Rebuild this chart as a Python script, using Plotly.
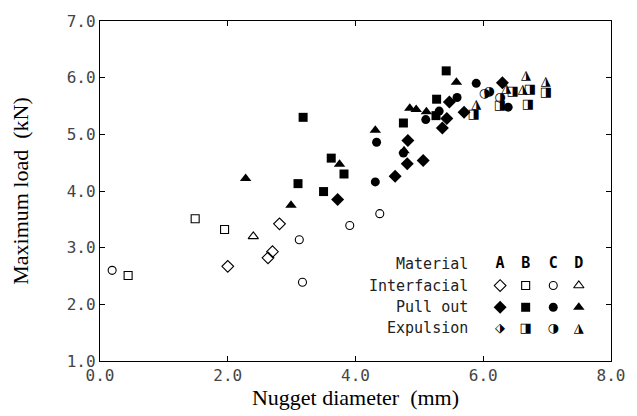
import plotly.graph_objects as go

# Nugget diameter (mm) and maximum load (kN), by failure mode and material
interfacial_A_x = [2.00, 2.81, 2.63, 2.70]
interfacial_A_y = [2.67, 3.42, 2.82, 2.93]
interfacial_B_x = [0.44, 1.49, 1.95]
interfacial_B_y = [2.51, 3.51, 3.32]
interfacial_C_x = [0.19, 3.12, 3.17, 3.91, 4.38]
interfacial_C_y = [2.60, 3.14, 2.39, 3.39, 3.60]
interfacial_D_x = [2.40]
interfacial_D_y = [3.20]

pullout_A_x = [3.72, 4.62, 4.81, 5.06, 4.82, 5.36, 5.43, 5.47, 5.70, 6.30]
pullout_A_y = [3.85, 4.26, 4.48, 4.54, 4.89, 5.11, 5.28, 5.57, 5.39, 5.91]
pullout_B_x = [3.10, 3.18, 3.50, 3.62, 3.82, 4.75, 5.27, 5.42, 5.26]
pullout_B_y = [4.13, 5.30, 3.99, 4.58, 4.30, 5.20, 5.62, 6.12, 5.33]
pullout_C_x = [4.31, 4.33, 4.75, 5.10, 5.31, 5.59, 5.89, 6.39]
pullout_C_y = [4.16, 4.86, 4.67, 5.26, 5.41, 5.65, 5.90, 5.48]
pullout_D_x = [2.28, 2.99, 3.75, 4.31, 4.76, 4.85, 4.95, 5.11, 5.58]
pullout_D_y = [4.22, 3.75, 4.47, 5.07, 4.71, 5.46, 5.44, 5.40, 5.92]

expulsion_B_x = [5.85, 6.26, 6.46, 6.73, 6.70, 6.98]
expulsion_B_y = [5.35, 5.50, 5.75, 5.78, 5.52, 5.74]
expulsion_C_x = [6.02, 6.09, 6.26]
expulsion_C_y = [5.71, 5.75, 5.64]
expulsion_D_x = [5.89, 6.36, 6.67, 6.62, 6.98]
expulsion_D_y = [5.52, 5.80, 6.03, 5.79, 5.93]

materials = ["A", "B", "C", "D"]
modes = ["Material", "Interfacial", "Pull out", "Expulsion"]

MONO = "DejaVu Sans Mono"
SERIF = "Liberation Serif"
INK = "black"

open_sym = {"A": "diamond-open", "B": "square-open", "C": "circle-open", "D": "triangle-up-open"}
fill_sym = {"A": "diamond", "B": "square", "C": "circle", "D": "triangle-up"}
half_glyph = {"A": "\u2b17", "B": "\u25e8", "C": "\u25d1", "D": "\u25ee"}
msize = {"A": 9, "B": 8, "C": 8, "D": 9}

fig = go.Figure()

def open_pts(x, y, m, **kw):
    fig.add_trace(go.Scatter(x=x, y=y, mode="markers", showlegend=False, hoverinfo="skip",
                             marker=dict(symbol=open_sym[m], size=msize[m], color=INK,
                                         line=dict(width=1.1, color=INK)), **kw))

def fill_pts(x, y, m, **kw):
    fig.add_trace(go.Scatter(x=x, y=y, mode="markers", showlegend=False, hoverinfo="skip",
                             marker=dict(symbol=fill_sym[m], size=msize[m] + 1, color=INK,
                                         line=dict(width=0)), **kw))

def half_pts(x, y, m, **kw):
    fig.add_trace(go.Scatter(x=x, y=y, mode="text", showlegend=False, hoverinfo="skip",
                             text=[half_glyph[m]] * len(x), textposition="middle center",
                             textfont=dict(family="DejaVu Sans", size=13, color=INK), **kw))

open_pts(interfacial_A_x, interfacial_A_y, "A")
open_pts(interfacial_B_x, interfacial_B_y, "B")
open_pts(interfacial_C_x, interfacial_C_y, "C")
open_pts(interfacial_D_x, interfacial_D_y, "D")
fill_pts(pullout_A_x, pullout_A_y, "A")
fill_pts(pullout_B_x, pullout_B_y, "B")
fill_pts(pullout_C_x, pullout_C_y, "C")
fill_pts(pullout_D_x, pullout_D_y, "D")
half_pts(expulsion_B_x, expulsion_B_y, "B")
half_pts(expulsion_C_x, expulsion_C_y, "C")
half_pts(expulsion_D_x, expulsion_D_y, "D")

# Key: symbols on an overlay axis spanning the plot area (0..1 in both directions)
col_x = [0.783, 0.833, 0.887, 0.937]
row_y = [0.284, 0.222, 0.158, 0.096]
ov = dict(xaxis="x2", yaxis="y2")
for i, m in enumerate(materials):
    open_pts([col_x[i]], [row_y[1]], m, **ov)
    fill_pts([col_x[i]], [row_y[2]], m, **ov)
    half_pts([col_x[i]], [row_y[3]], m, **ov)
    fig.add_trace(go.Scatter(x=[col_x[i]], y=[row_y[0]], mode="text", text=[m],
                             textposition="middle center", showlegend=False, hoverinfo="skip",
                             textfont=dict(family=MONO, size=15, color=INK, weight="bold"), **ov))
for j, label in enumerate(modes):
    fig.add_annotation(x=0.725, y=row_y[j], xref="x2", yref="y2", text=label, showarrow=False,
                       xanchor="right", yanchor="middle",
                       font=dict(family=MONO, size=15, color="#222"))

axis_common = dict(showline=True, linecolor=INK, linewidth=1.4, mirror="ticks", ticks="inside",
                   ticklen=5, tickwidth=1.2, tickcolor=INK, showgrid=False, zeroline=False,
                   tickformat=".1f", tickfont=dict(family=MONO, size=16, color="#444"))

fig.update_layout(
    width=637, height=416,
    margin=dict(l=100, r=17, t=19, b=55),
    paper_bgcolor="white", plot_bgcolor="white",
    xaxis=dict(range=[0, 8], tickvals=[0, 2, 4, 6, 8], **axis_common,
               title=dict(text="Nugget diameter\u00a0\u00a0(mm)", standoff=1,
                          font=dict(family=SERIF, size=22, color=INK))),
    yaxis=dict(range=[1, 7], tickvals=[1, 2, 3, 4, 5, 6, 7], **axis_common,
               title=dict(text="Maximum load\u00a0\u00a0(kN)", standoff=31,
                          font=dict(family=SERIF, size=22, color=INK))),
    xaxis2=dict(range=[0, 1], overlaying="x", visible=False, fixedrange=True),
    yaxis2=dict(range=[0, 1], overlaying="y", visible=False, fixedrange=True),
)

fig.write_html("out.html")
